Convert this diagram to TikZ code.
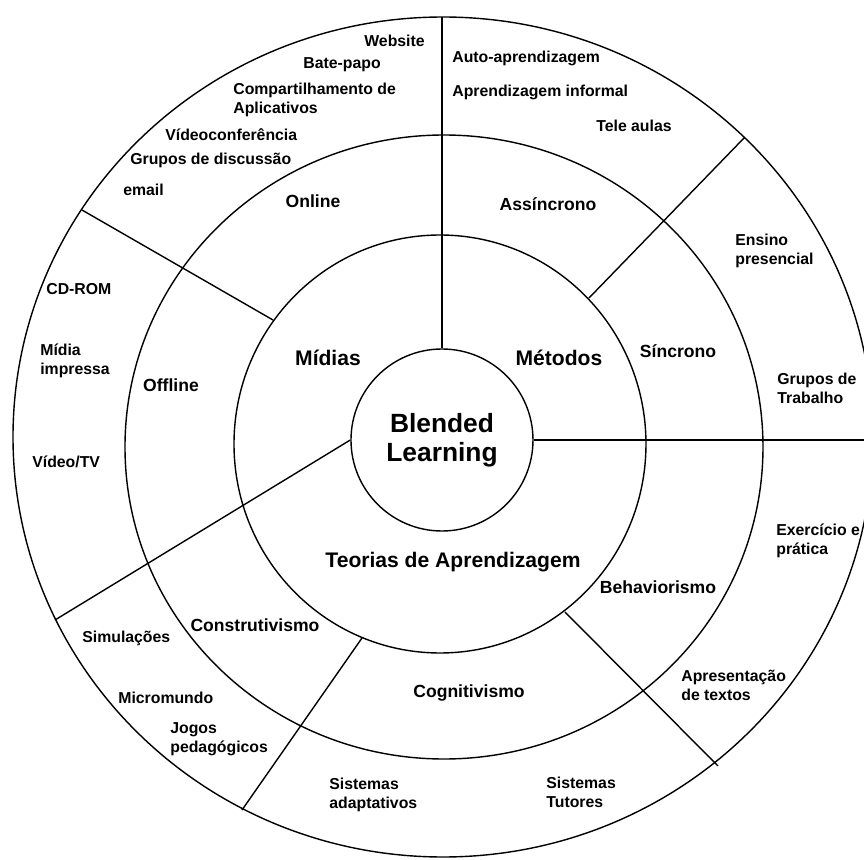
\documentclass[tikz,border=0pt]{standalone}
\usepackage{fontspec}
\setmainfont{Liberation Sans}

\begin{document}
\begin{tikzpicture}[
  ring/.style={draw=black,line width=0.8pt},
  divider/.style={draw=black,line width=0.8pt},
  core/.style={circle,draw=black,line width=0.8pt,minimum size=3.64cm,
    inner sep=0pt,align=center,font=\fontsize{15}{16.5}\selectfont\bfseries},
  area/.style={inner sep=0pt,font=\fontsize{12}{14}\selectfont\bfseries},
  sector/.style={inner sep=0pt,font=\fontsize{10}{12}\selectfont\bfseries},
  item/.style={inner sep=0pt,anchor=west,align=left,
    font=\fontsize{9}{10.8}\selectfont\bfseries}]
\useasboundingbox (-8.84,-8.4) rectangle (8.44,8.8);
\clip (-8.84,-8.4) rectangle (8.44,8.8);
\draw[ring] (-0.04,-0.08) ellipse [x radius=4.12cm,y radius=4.18cm];
\draw[ring] (0.04,-0.14) ellipse [x radius=6.38cm,y radius=6.24cm];
\draw[ring] (0.02,0.06) ellipse [x radius=8.6cm,y radius=8.4cm];
\node[core] (core) at (0,0) {Blended\\Learning};
\coordinate (topedge) at (0,8.46);
\coordinate (rightedge) at (8.8,0);
\coordinate (leftedge) at (-7.74,-3.6);
\coordinate (mediafoot) at (-3.38,2.4);
\coordinate (mediaedge) at (-7.2,4.6);
\coordinate (methodfoot) at (2.94,2.84);
\coordinate (methodedge) at (6.06,6.06);
\coordinate (theoryfoot) at (-1.6,-3.96);
\coordinate (theoryedge) at (-4.0,-7.4);
\coordinate (behavfoot) at (2.46,-3.44);
\coordinate (behavedge) at (5.52,-6.52);
\draw[divider] (core.north) -- (topedge);
\draw[divider] (core.east) -- (rightedge);
\draw[divider] (core.west) -- (leftedge);
\draw[divider] (mediafoot) -- (mediaedge);
\draw[divider] (methodfoot) -- (methodedge);
\draw[divider] (theoryfoot) -- (theoryedge);
\draw[divider] (behavfoot) -- (behavedge);
\node[area] (media) at (-2.28,1.64) {Mídias};
\node[area] (methods) at (2.34,1.64) {Métodos};
\node[area] (theories) at (0.22,-2.44) {Teorias de Aprendizagem};
\node[sector] (online) at (-2.58,4.78) {Online};
\node[sector] (async) at (2.12,4.72) {Assíncrono};
\node[sector] (offline) at (-5.42,1.1) {Offline};
\node[sector] (sync) at (4.72,1.78) {Síncrono};
\node[sector] (constr) at (-3.74,-3.7) {Construtivismo};
\node[sector] (behav) at (4.32,-2.94) {Behaviorismo};
\node[sector] (cogn) at (0.54,-5.06) {Cognitivismo};
\node[item] (website) at (-1.56,7.98) {Website};
\node[item] (chat) at (-2.78,7.5) {Bate-papo};
\node[item] (sharing) at (-4.18,6.81) {Compartilhamento de\\Aplicativos};
\node[item] (videoconf) at (-5.54,6.10) {Vídeoconferência};
\node[item] (forums) at (-6.24,5.6) {Grupos de discussão};
\node[item] (email) at (-6.38,5.0) {email};
\node[item] (selfstudy) at (0.2,7.64) {Auto-aprendizagem};
\node[item] (informal) at (0.2,6.96) {Aprendizagem informal};
\node[item] (tele) at (3.08,6.28) {Tele aulas};
\node[item] (cdrom) at (-7.92,3.02) {CD-ROM};
\node[item] (print) at (-8.04,1.58) {Mídia\\impressa};
\node[item] (tv) at (-8.2,-0.44) {Vídeo/TV};
\node[item] (classroom) at (5.86,3.78) {Ensino\\presencial};
\node[item] (teams) at (6.7,1.04) {Grupos de\\Trabalho};
\node[item] (drill) at (6.68,-2.02) {Exercício e\\prática};
\node[item] (texts) at (4.78,-4.9) {Apresentação\\de textos};
\node[item] (tutors) at (2.08,-7.04) {Sistemas\\Tutores};
\node[item] (adaptive) at (-2.26,-7.1) {Sistemas\\adaptativos};
\node[item] (games) at (-5.44,-5.98) {Jogos\\pedagógicos};
\node[item] (microworld) at (-6.48,-5.16) {Micromundo};
\node[item] (sims) at (-7.2,-3.96) {Simulações};
\end{tikzpicture}
\end{document}
